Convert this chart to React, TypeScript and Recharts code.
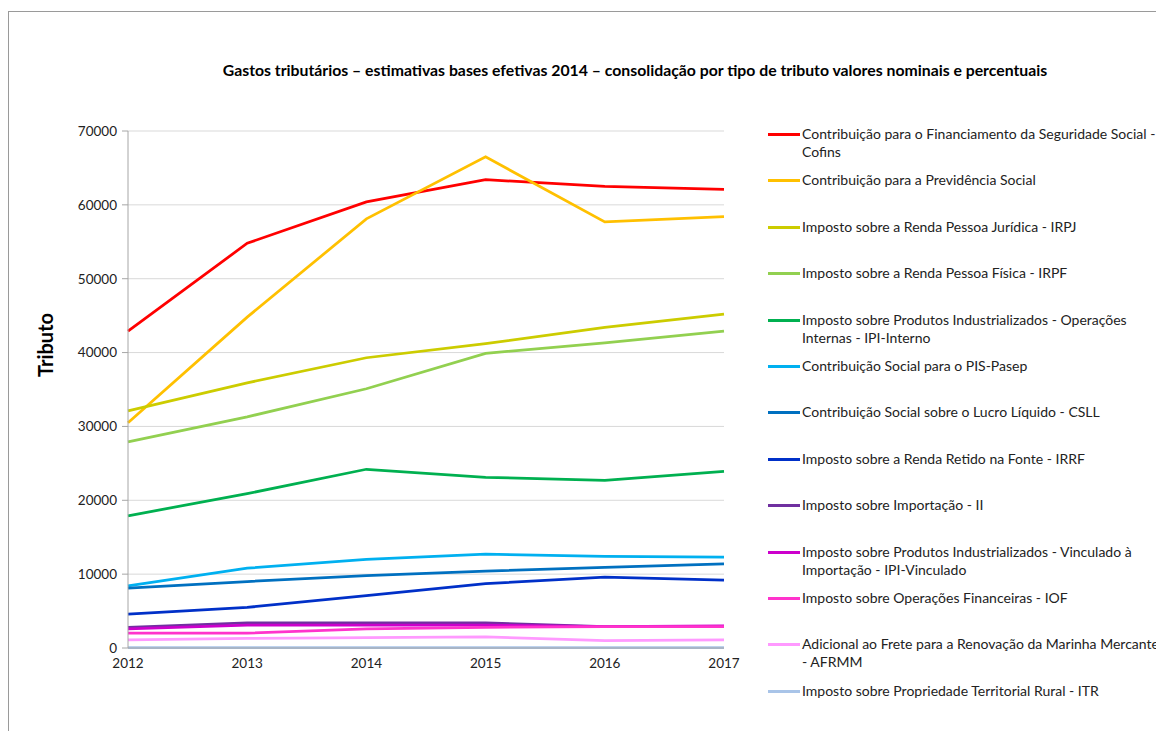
import React from 'react';
import { LineChart, Line, XAxis, YAxis, CartesianGrid } from 'recharts';

const years = ['2012', '2013', '2014', '2015', '2016', '2017'];

const cofins = [42900, 54800, 60400, 63400, 62500, 62100];
const previdencia = [30500, 44800, 58100, 66500, 57700, 58400];
const irpj = [32100, 35900, 39300, 41200, 43400, 45200];
const irpf = [27900, 31300, 35100, 39900, 41300, 42900];
const ipiInterno = [17900, 20900, 24200, 23100, 22700, 23900];
const pisPasep = [8400, 10800, 12000, 12700, 12400, 12300];
const csll = [8100, 9000, 9800, 10400, 10900, 11400];
const irrf = [4600, 5500, 7100, 8700, 9600, 9200];
const importacao = [2800, 3400, 3400, 3400, 2900, 2900];
const ipiVinculado = [2600, 3100, 3100, 3100, 2900, 3000];
const iof = [2000, 2000, 2600, 2800, 2900, 2900];
const afrmm = [1100, 1300, 1400, 1500, 1000, 1100];
const itr = [50, 50, 50, 50, 50, 50];

const yTicks = [0, 10000, 20000, 30000, 40000, 50000, 60000, 70000];

const series = [
  { key: 'cofins', name: 'Contribuição para o Financiamento da Seguridade Social - Cofins', color: '#ff0000', values: cofins },
  { key: 'previdencia', name: 'Contribuição para a Previdência Social', color: '#ffc000', values: previdencia },
  { key: 'irpj', name: 'Imposto sobre a Renda Pessoa Jurídica - IRPJ', color: '#cccc00', values: irpj },
  { key: 'irpf', name: 'Imposto sobre a Renda Pessoa Física - IRPF', color: '#92d050', values: irpf },
  { key: 'ipiInterno', name: 'Imposto sobre Produtos Industrializados - Operações Internas - IPI-Interno', color: '#00b050', values: ipiInterno },
  { key: 'pisPasep', name: 'Contribuição Social para o PIS-Pasep', color: '#00b0f0', values: pisPasep },
  { key: 'csll', name: 'Contribuição Social sobre o Lucro Líquido - CSLL', color: '#0070c0', values: csll },
  { key: 'irrf', name: 'Imposto sobre a Renda Retido na Fonte - IRRF', color: '#0030c8', values: irrf },
  { key: 'importacao', name: 'Imposto sobre Importação - II', color: '#7030a0', values: importacao },
  { key: 'ipiVinculado', name: 'Imposto sobre Produtos Industrializados - Vinculado à Importação - IPI-Vinculado', color: '#cc00cc', values: ipiVinculado },
  { key: 'iof', name: 'Imposto sobre Operações Financeiras - IOF', color: '#ff33cc', values: iof },
  { key: 'afrmm', name: 'Adicional ao Frete para a Renovação da Marinha Mercante - AFRMM', color: '#ff99ff', values: afrmm },
  { key: 'itr', name: 'Imposto sobre Propriedade Territorial Rural - ITR', color: '#a9c4e8', values: itr },
];

const data = years.map((year, i) => {
  const row: Record<string, string | number> = { year };
  series.forEach((s) => {
    row[s.key] = s.values[i];
  });
  return row;
});

const FONT = 'Lato, "Open Sans", sans-serif';

// an upper-case code after the last " - " is kept together with its dash,
// so it wraps as "- AFRMM" like the original legend
const legendText = (name: string) => {
  const m = name.match(/^(.*) (- [A-Z]+)$/);
  if (!m) return name;
  return (
    <>
      {m[1]} <span style={{ whiteSpace: 'nowrap' }}>{m[2]}</span>
    </>
  );
};

export default function App() {
  return (
    <div style={{ position: 'relative', width: 1156, height: 723, overflow: 'hidden', fontFamily: FONT }}>
      <div
        style={{
          position: 'absolute',
          left: 0,
          top: 3,
          width: 1200,
          height: 760,
          border: '1px solid #9a9a9a',
          boxSizing: 'border-box',
        }}
      />
      <div
        style={{
          position: 'absolute',
          left: 0,
          width: 1254,
          top: 52,
          textAlign: 'center',
          fontWeight: 'bold',
          fontSize: 15.8,
          color: '#000',
        }}
      >
        Gastos tributários – estimativas bases efetivas 2014 – consolidação por tipo de tributo valores nominais e percentuais
      </div>
      <div style={{ position: 'absolute', left: 0, top: 0 }}>
        <LineChart
          width={1156}
          height={723}
          data={data}
          margin={{ top: 123, right: 440, left: 0, bottom: 53 }}
        >
          <CartesianGrid stroke="#d9d9d9" vertical={false} />
          <XAxis
            dataKey="year"
            padding={{ left: 0, right: 0 }}
            axisLine={{ stroke: '#a6a6a6' }}
            tickLine={false}
            tickSize={6}
            tickMargin={4}
            height={30}
            tick={{ fill: '#222', fontSize: 13.5, fontFamily: FONT }}
            interval={0}
          />
          <YAxis
            width={120}
            domain={[0, 70000]}
            ticks={yTicks}
            axisLine={{ stroke: '#a6a6a6' }}
            tickLine={{ stroke: '#a6a6a6' }}
            tickSize={6}
            tickMargin={5}
            tick={{ fill: '#222', fontSize: 13.5, fontFamily: FONT }}
            label={{
              content: () => (
                <text
                  x={37}
                  y={337}
                  transform="rotate(-90 37 337)"
                  textAnchor="middle"
                  dominantBaseline="central"
                  style={{ fontFamily: FONT, fontSize: 20, fontWeight: 'bold', fill: '#000' }}
                >
                  Tributo
                </text>
              ),
            }}
          />
          {series.map((s) => (
            <Line
              key={s.key}
              type="linear"
              dataKey={s.key}
              name={s.name}
              stroke={s.color}
              strokeWidth={2.75}
              dot={false}
              activeDot={false}
              isAnimationActive={false}
            />
          ))}
        </LineChart>
      </div>
      <div
        style={{
          position: 'absolute',
          left: 760,
          top: 117,
          width: 420,
          fontSize: 14,
          color: '#222',
          lineHeight: '18px',
        }}
      >
        {series.map((s) => (
          <div key={s.key} style={{ display: 'flex', alignItems: 'flex-start', height: 46.4 }}>
            <div style={{ width: 32, height: 3, background: s.color, marginTop: 8, marginRight: 2, flexShrink: 0 }} />
            <div style={{ width: 366 }}>{legendText(s.name)}</div>
          </div>
        ))}
      </div>
    </div>
  );
}
